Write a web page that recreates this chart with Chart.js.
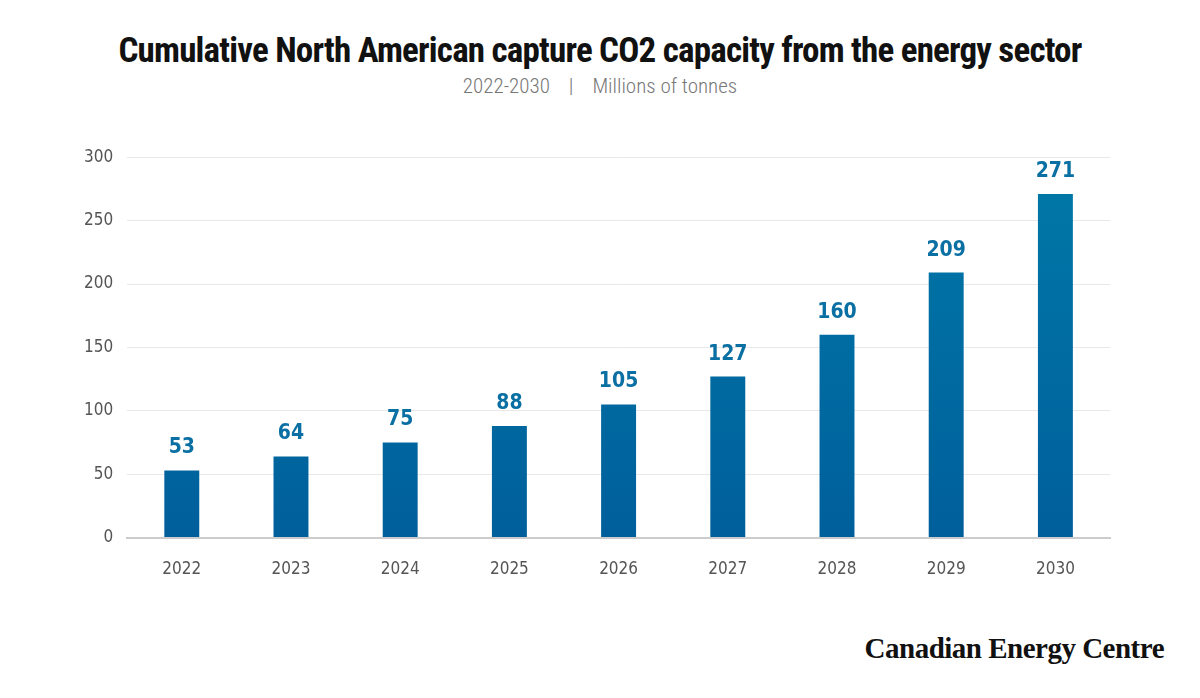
<!DOCTYPE html>
<html><head><meta charset="utf-8">
<script src="https://cdn.jsdelivr.net/npm/chart.js@4"></script>
<style>
body{margin:0;background:#fff;width:1200px;height:698px;overflow:hidden;position:relative;font-family:"Liberation Sans Narrow","Roboto Condensed","DejaVu Sans Condensed",sans-serif}
#t{position:absolute;top:30px;left:0;width:1200px;text-align:center;font-size:35px;font-weight:bold;color:#111;letter-spacing:-0.8px}
#s{position:absolute;top:74px;left:0;width:1200px;text-align:center;font-size:21px;color:#777;font-weight:300}
#logo{position:absolute;right:36px;top:632px;font-family:"Liberation Serif",serif;font-weight:bold;font-size:29px;color:#111;letter-spacing:-0.5px}
#c{position:absolute;left:70px;top:133px}
</style></head><body>
<div id="t">Cumulative North American capture CO2 capacity from the energy sector</div>
<div id="s">2022-2030 &nbsp;&nbsp;&nbsp;|&nbsp;&nbsp;&nbsp; Millions of tonnes</div>
<div id="logo">Canadian Energy Centre</div>
<canvas id="c" width="1050" height="461"></canvas>
<script>
const categories=["2022","2023","2024","2025","2026","2027","2028","2029","2030"];
const values=[53,64,75,88,105,127,160,209,271];
const tickFont={family:"'Liberation Sans Narrow','DejaVu Sans Condensed',sans-serif",size:17};
const labelPlugin={id:'lbl',afterDatasetsDraw(ch){const {ctx}=ch;const m=ch.getDatasetMeta(0);ctx.save();ctx.fillStyle='#0a6fa3';ctx.font="bold 21px 'Liberation Sans Narrow','DejaVu Sans Condensed',sans-serif";ctx.textAlign='center';ctx.textBaseline='bottom';m.data.forEach((b,i)=>ctx.fillText(values[i],b.x,b.y-12));ctx.restore();}};
new Chart(document.getElementById('c'),{type:'bar',
data:{labels:categories,datasets:[{data:values,barPercentage:0.32,categoryPercentage:1,
backgroundColor:(c)=>{const a=c.chart.chartArea;if(!a)return '#006ea3';const g=c.chart.ctx.createLinearGradient(0,a.top,0,a.bottom);g.addColorStop(0,'#0079a8');g.addColorStop(1,'#005f9b');return g;}}]},
options:{responsive:false,animation:false,layout:{padding:{right:10,top:10}},
plugins:{legend:{display:false},tooltip:{enabled:false}},
scales:{y:{min:0,max:300,ticks:{stepSize:50,color:'#555',font:tickFont,padding:14},grid:{color:'#e8e8e8',drawTicks:false},border:{display:false}},
x:{ticks:{color:'#555',font:tickFont,padding:14},grid:{display:false},border:{color:'#ccc',width:2}}}},
plugins:[labelPlugin]});
</script></body></html>
